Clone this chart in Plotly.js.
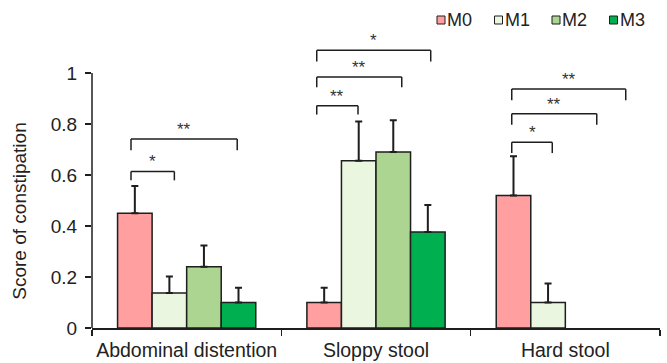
<!DOCTYPE html>
<html><head><meta charset="utf-8">
<script src="https://cdn.plot.ly/plotly-3.0.1.min.js"></script>
<style>html,body{margin:0;padding:0;background:#fff}</style>
</head><body><div id="chart" style="width:667px;height:363px"></div>
<script>
const categories = ['Abdominal distention', 'Sloppy stool', 'Hard stool'];
const seriesNames = ['M0', 'M1', 'M2', 'M3'];
const seriesColors = ['#FF9F9F', '#EBF6E1', '#ABD591', '#00B050'];
const M0 = [0.45, 0.10, 0.52];
const M1 = [0.137, 0.656, 0.10];
const M2 = [0.24, 0.69, null];
const M3 = [0.10, 0.376, null];
const M0err = [0.107, 0.058, 0.154];
const M1err = [0.065, 0.154, 0.075];
const M2err = [0.084, 0.125, null];
const M3err = [0.058, 0.106, null];
const yTickVals = [0, 0.2, 0.4, 0.6, 0.8, 1];
const yTickText = ['0', '0.2', '0.4', '0.6', '0.8', '1'];
const yTitle = 'Score of constipation';
// significance brackets (x in category-index units, y in score units)
const bracketX0 = [-0.294, -0.294, 0.687, 0.687, 0.687, 1.717, 1.717, 1.717];
const bracketX1 = [-0.065, 0.267, 0.905, 1.136, 1.289, 1.931, 2.166, 2.319];
const bracketY = [0.614, 0.741, 0.872, 0.984, 1.089, 0.728, 0.840, 0.937];
const bracketLeg = [0.579, 0.697, 0.837, 0.944, 1.045, 0.686, 0.797, 0.893];
const bracketLabel = ['*', '**', '**', '**', '*', '*', '**', '**'];

const values = [M0, M1, M2, M3];
const errs = [M0err, M1err, M2err, M3err];
const ink = '#1e1e1e';
const W = 667, H = 363;
const mg = {l: 92, r: 7, t: 22, b: 35};
const plotW = W - mg.l - mg.r, plotH = H - mg.t - mg.b;

const traces = seriesNames.map((name, i) => ({
  type: 'bar',
  name: name,
  x: categories,
  y: values[i],
  marker: {color: seriesColors[i], line: {color: ink, width: 1.5}},
  error_y: {
    type: 'data', symmetric: false,
    array: errs[i], arrayminus: errs[i].map(v => v === null ? null : 0),
    color: ink, thickness: 2, width: 3.5
  },
  showlegend: false,
  hoverinfo: 'skip'
}));

const shapes = [{
  type: 'line', xref: 'paper', yref: 'y', x0: 0, x1: 0, y0: 0, y1: 1,
  line: {color: ink, width: 1.5}
}];
const annotations = [];
for (let k = 0; k < bracketY.length; k++) {
  const ln = {color: ink, width: 1.5};
  shapes.push({type: 'line', xref: 'x', yref: 'y', x0: bracketX0[k], x1: bracketX1[k], y0: bracketY[k], y1: bracketY[k], line: ln});
  shapes.push({type: 'line', xref: 'x', yref: 'y', x0: bracketX0[k], x1: bracketX0[k], y0: bracketY[k], y1: bracketLeg[k], line: ln});
  shapes.push({type: 'line', xref: 'x', yref: 'y', x0: bracketX1[k], x1: bracketX1[k], y0: bracketY[k], y1: bracketLeg[k], line: ln});
  annotations.push({
    xref: 'x', yref: 'y', x: (bracketX0[k] + bracketX1[k]) / 2, y: bracketY[k],
    text: bracketLabel[k], showarrow: false, yanchor: 'bottom', xanchor: 'center',
    yshift: -2, font: {size: 17, color: '#333'}
  });
}
annotations.push({
  xref: 'paper', yref: 'y', x: 0, y: 0.456, xshift: -72,
  text: yTitle, textangle: -90, showarrow: false,
  xanchor: 'center', yanchor: 'middle', font: {size: 19, color: '#222'}
});

// legend (swatch + label), laid out in pixels from the top-right corner
const legendLeft = 437, legendStep = 57.5, legendMidY = 20, sw = 8;
seriesNames.forEach((name, i) => {
  const px = legendLeft + i * legendStep;
  shapes.push({
    type: 'rect', xref: 'paper', yref: 'paper',
    x0: (px - mg.l) / plotW, x1: (px + sw - mg.l) / plotW,
    y0: (H - mg.b - (legendMidY + sw / 2)) / plotH, y1: (H - mg.b - (legendMidY - sw / 2)) / plotH,
    fillcolor: seriesColors[i], line: {color: ink, width: 1}
  });
  annotations.push({
    xref: 'paper', yref: 'paper', x: (px + sw + 1 - mg.l) / plotW, y: (H - mg.b - legendMidY) / plotH,
    text: name, showarrow: false, xanchor: 'left', yanchor: 'middle',
    font: {size: 18, color: '#222'}, borderpad: 0
  });
});

const layout = {
  width: W, height: H,
  margin: Object.assign({autoexpand: false}, mg),
  paper_bgcolor: '#fff', plot_bgcolor: '#fff',
  font: {family: 'Liberation Sans, Arial, sans-serif', color: '#222'},
  barmode: 'group', bargap: 0.27, bargroupgap: 0,
  showlegend: false,
  xaxis: {
    type: 'category', range: [-0.5, 2.5], tickson: 'boundaries', tickangle: 0,
    ticks: 'outside', ticklen: 6, tickwidth: 1.5, tickcolor: ink,
    showline: true, linecolor: ink, linewidth: 1.5, showgrid: false, zeroline: false,
    tickfont: {size: 19.5, color: '#222'}, ticklabelstandoff: 4, fixedrange: true
  },
  yaxis: {
    range: [0, 1.2], tickvals: yTickVals, ticktext: yTickText,
    ticks: 'outside', ticklen: 6, tickwidth: 1.5, tickcolor: ink,
    showline: false, showgrid: false, zeroline: false,
    tickfont: {size: 19, color: '#222'}, ticklabelstandoff: 4, fixedrange: true
  },
  shapes: shapes,
  annotations: annotations
};

Plotly.newPlot('chart', traces, layout, {displayModeBar: false, staticPlot: true});
</script>
</body></html>
